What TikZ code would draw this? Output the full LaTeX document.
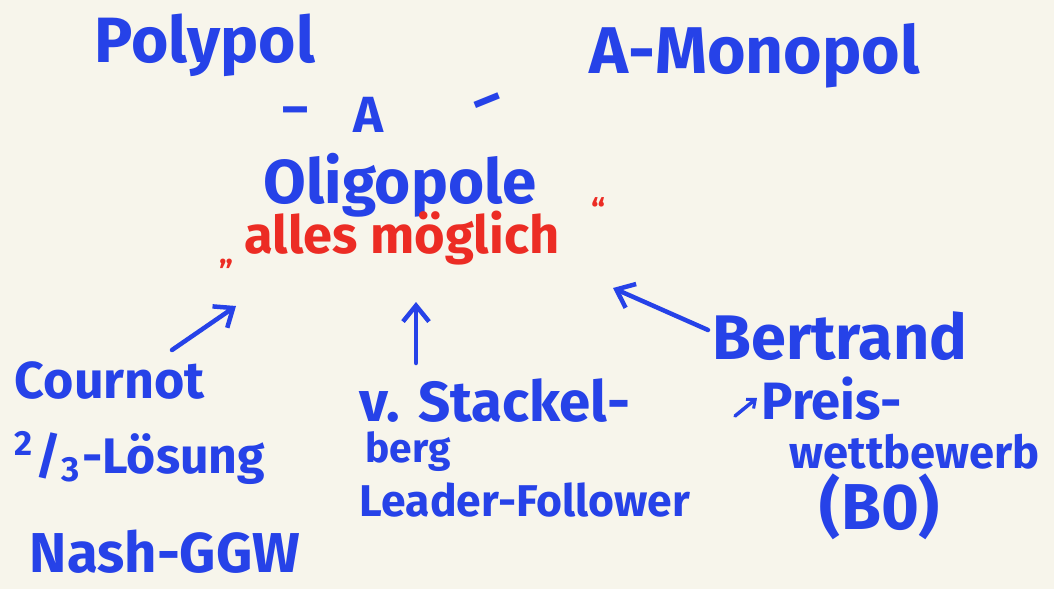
\documentclass[tikz,border=0pt]{standalone}
\usepackage{fontspec}
\setmainfont{Fira Sans}
\usepackage{graphicx}
\usetikzlibrary{arrows.meta}
\definecolor{inkblue}{RGB}{38,66,232}
\definecolor{inkred}{RGB}{236,44,36}
\definecolor{paper}{RGB}{247,245,235}
\tikzset{
  hw/.style={text=inkblue, font=\bfseries, inner sep=0pt, anchor=center},
  hwred/.style={hw, text=inkred},
  pen/.style={draw=inkblue, line width=4.5pt, line cap=round, line join=round,
    -{Straight Barb[length=16pt,width=26pt,line width=4.5pt]}},
  smallpen/.style={draw=inkblue, line width=3.5pt, line cap=round, line join=round,
    -{Straight Barb[length=7pt,width=12pt,line width=3pt]}}
}
\newcommand{\fitw}[2]{\resizebox{#1pt}{!}{#2}}
\begin{document}
\begin{tikzpicture}[x=1pt,y=-1pt]
\fill[paper] (0,0) rectangle (1054,589);
\useasboundingbox (0,0) rectangle (1054,589);

\node[hw] (polypol) at (205,45) {\fitw{220}{Polypol}};
\node[hw] (monopol) at (755,56) {\fitw{330}{A-Monopol}};
\node[hw] (dashl) at (295,116) {\fitw{26}{–}};
\node[hw] (anode) at (368,115) {\fitw{30}{A}};
\node[hw, rotate=22] (dashr) at (490,107) {\fitw{28}{–}};
\node[hw] (oligo) at (400,185) {\fitw{273}{Oligopole}};
\node[hwred] (alles) at (402,238) {\fitw{315}{alles möglich}};
\node[hwred] (qopen) at (226,264) {\fitw{14}{„}};
\node[hwred] (qclose) at (598,210) {\fitw{14}{“}};

\node[hw] (cournot) at (110,380) {\fitw{190}{Cournot}};
\node[hw] (loesung) at (140,458) {\fitw{250}{\textsuperscript{2}/\textsubscript{3}-Lösung}};
\node[hw] (nash) at (165,552) {\fitw{270}{Nash-GGW}};

\node[hw] (stackel) at (495,401) {\fitw{270}{v. Stackel-}};
\node[hw] (berg) at (408,452) {\fitw{85}{berg}};
\node[hw] (leader) at (525,500) {\fitw{330}{Leader-Follower}};

\node[hw] (bertrand) at (840,336) {\fitw{255}{Bertrand}};
\node[hw] (preis) at (832,399) {\fitw{140}{Preis-}};
\node[hw] (wettb) at (915,452) {\fitw{250}{wettbewerb}};
\node[hw] (bnull) at (880,507) {\fitw{120}{(B0)}};

\coordinate (a1s) at (172,350);
\coordinate (a1e) at (236,306);
\coordinate (a2s) at (416,363);
\coordinate (a2e) at (416,302);
\coordinate (a3s) at (708,330);
\coordinate (a3e) at (613,288);
\coordinate (a4s) at (735,416);
\coordinate (a4e) at (757,398);

\draw[pen] (a1s) -- (a1e);
\draw[pen] (a2s) -- (a2e);
\draw[pen] (a3s) -- (a3e);
\draw[smallpen] (a4s) -- (a4e);
\end{tikzpicture}
\end{document}
